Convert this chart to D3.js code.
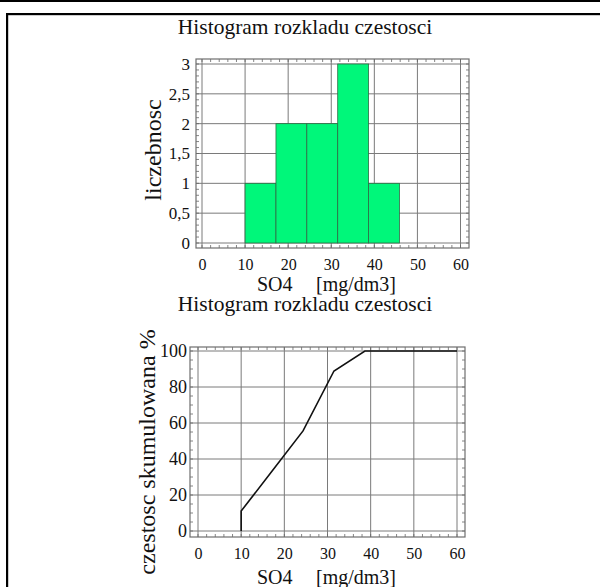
<!DOCTYPE html>
<html>
<head>
<meta charset="utf-8">
<script src="https://cdn.jsdelivr.net/npm/d3@7/dist/d3.min.js"></script>
<style>
  html, body { margin: 0; padding: 0; background: #fff; }
  svg { display: block; }
</style>
</head>
<body>
<svg id="chart" width="600" height="587"></svg>
<script>
// Histogram bins of SO4 concentration [mg/dm3]
const binEdges = [10, 17.17, 24.33, 31.5, 38.67, 45.83];
const counts = [1, 2, 2, 3, 1];

// Cumulative frequency curve (%)
const cumX = [10, 10, 17.17, 24.33, 31.5, 38.67, 60];
const cumY = [0, 11.1, 33.3, 55.6, 88.9, 100, 100];

const xTicks = [0, 10, 20, 30, 40, 50, 60];
const yTicksCount = [0, 0.5, 1, 1.5, 2, 2.5, 3];
const yTicksCum = [0, 20, 40, 60, 80, 100];

const titleText = "Histogram rozkladu czestosci";
const xLabelParts = ["SO4", "[mg/dm3]"];
const yLabelCount = "liczebnosc";
const yLabelCum = "czestosc skumulowana %";

const svg = d3.select("#chart");
const fmtComma = d => String(d).replace(".", ",");
const SERIF = '"Liberation Serif"';

// serif text helper
function label(sel, size) {
  return sel.style("font-family", SERIF).style("font-size", size + "px").attr("fill", "#111");
}

// page frame lines
svg.append("rect").attr("x", 0).attr("y", 0).attr("width", 600).attr("height", 2).attr("fill", "#000");
svg.append("rect").attr("x", 6).attr("y", 13).attr("width", 594).attr("height", 2.2).attr("fill", "#000");
svg.append("rect").attr("x", 6).attr("y", 13).attr("width", 2.2).attr("height", 574).attr("fill", "#000");

function panel(cfg) {
  const g = svg.append("g");
  const x = d3.scaleLinear().domain([0, 60]).range(cfg.xRange);
  const y = d3.scaleLinear().domain(cfg.yDomain).range(cfg.yRange);
  const f = cfg.frame; // [left, top, right, bottom]

  // grid
  g.append("g").selectAll("line").data(xTicks).join("line")
    .attr("x1", d => x(d)).attr("x2", d => x(d)).attr("y1", f[1]).attr("y2", f[3])
    .attr("stroke", "#7a7a7a").attr("stroke-width", 1);
  g.append("g").selectAll("line").data(cfg.yTicks).join("line")
    .attr("y1", d => y(d)).attr("y2", d => y(d)).attr("x1", f[0]).attr("x2", f[2])
    .attr("stroke", "#7a7a7a").attr("stroke-width", 1);

  cfg.draw(g, x, y);

  // minor ticks on all four sides
  const tl = 3;
  const xMinor = d3.range(0, 60.001, cfg.xMinorStep);
  const yMinor = d3.range(cfg.yDomain[0], cfg.yDomain[1] + 1e-6, cfg.yMinorStep);
  const tk = g.append("g").attr("stroke", "#666").attr("stroke-width", 0.8);
  xMinor.forEach(v => {
    tk.append("line").attr("x1", x(v)).attr("x2", x(v)).attr("y1", f[1]).attr("y2", f[1] + tl);
    tk.append("line").attr("x1", x(v)).attr("x2", x(v)).attr("y1", f[3]).attr("y2", f[3] - tl);
  });
  yMinor.forEach(v => {
    tk.append("line").attr("y1", y(v)).attr("y2", y(v)).attr("x1", f[0]).attr("x2", f[0] + tl);
    tk.append("line").attr("y1", y(v)).attr("y2", y(v)).attr("x1", f[2]).attr("x2", f[2] - tl);
  });

  // frame
  g.append("rect").attr("x", f[0]).attr("y", f[1]).attr("width", f[2] - f[0]).attr("height", f[3] - f[1])
    .attr("fill", "none").attr("stroke", "#6e6e6e").attr("stroke-width", 1.2);

  // tick labels
  const xAxis = d3.axisBottom(x).tickValues(xTicks).tickSize(0).tickPadding(0).tickFormat(d3.format("d"));
  const xa = g.append("g").attr("transform", `translate(0,${f[3] + cfg.xTickDy})`).call(xAxis);
  xa.attr("font-family", null).attr("font-size", null);
  xa.select(".domain").remove();
  label(xa.selectAll("text"), cfg.xTickSize).attr("dy", 0);

  const yAxis = d3.axisLeft(y).tickValues(cfg.yTicks).tickSize(0).tickPadding(0).tickFormat(cfg.yFmt);
  const ya = g.append("g").attr("transform", `translate(${cfg.yTickX},0)`).call(yAxis);
  ya.attr("font-family", null).attr("font-size", null);
  ya.select(".domain").remove();
  label(ya.selectAll("text"), cfg.yTickSize);

  // axis titles
  label(g.append("text"), 20).attr("x", cfg.xLabelPos[0]).attr("y", cfg.xLabelPos[1]).text(xLabelParts[0]);
  label(g.append("text"), 20).attr("x", cfg.xLabelPos[0] + 59).attr("y", cfg.xLabelPos[1]).text(xLabelParts[1]);

  label(g.append("text"), cfg.yLabelSize)
    .attr("transform", `translate(${cfg.yLabelPos[0]},${cfg.yLabelPos[1]}) rotate(-90)`)
    .attr("text-anchor", "middle").text(cfg.yLabel);

  label(g.append("text"), 21.5).attr("x", cfg.titlePos[0]).attr("y", cfg.titlePos[1])
    .attr("text-anchor", "middle").text(titleText);
}

// histogram panel
panel({
  xRange: [202, 460.5], yDomain: [0, 3], yRange: [243, 64], frame: [196, 59, 469, 248],
  yTicks: yTicksCount, yFmt: fmtComma, xMinorStep: 2, yMinorStep: 0.1,
  xTickDy: 22, xTickSize: 16, yTickX: 190, yTickSize: 17,
  xLabelPos: [257, 291], yLabelPos: [161, 150], yLabel: yLabelCount, yLabelSize: 24, titlePos: [305, 34],
  draw: (g, x, y) => {
    const bins = counts.map((c, i) => ({ x0: binEdges[i], x1: binEdges[i + 1], c }));
    g.append("g").selectAll("rect").data(bins).join("rect")
      .attr("x", d => x(d.x0)).attr("width", d => x(d.x1) - x(d.x0))
      .attr("y", d => y(d.c)).attr("height", d => y(0) - y(d.c))
      .attr("fill", "#00f77a").attr("stroke", "#2f6b45").attr("stroke-width", 0.8);
  }
});

// cumulative panel
panel({
  xRange: [198, 457], yDomain: [0, 100], yRange: [531, 351], frame: [190, 347, 465, 537],
  yTicks: yTicksCum, yFmt: d3.format("d"), xMinorStep: 2, yMinorStep: 5,
  xTickDy: 22, xTickSize: 16, yTickX: 187, yTickSize: 18,
  xLabelPos: [257, 584], yLabelPos: [155, 452], yLabel: yLabelCum, yLabelSize: 24, titlePos: [305, 311],
  draw: (g, x, y) => {
    const line = d3.line().x(d => x(d[0])).y(d => y(d[1]));
    g.append("path").datum(d3.zip(cumX, cumY)).attr("d", line)
      .attr("fill", "none").attr("stroke", "#111").attr("stroke-width", 1.6);
  }
});
</script>
</body>
</html>
